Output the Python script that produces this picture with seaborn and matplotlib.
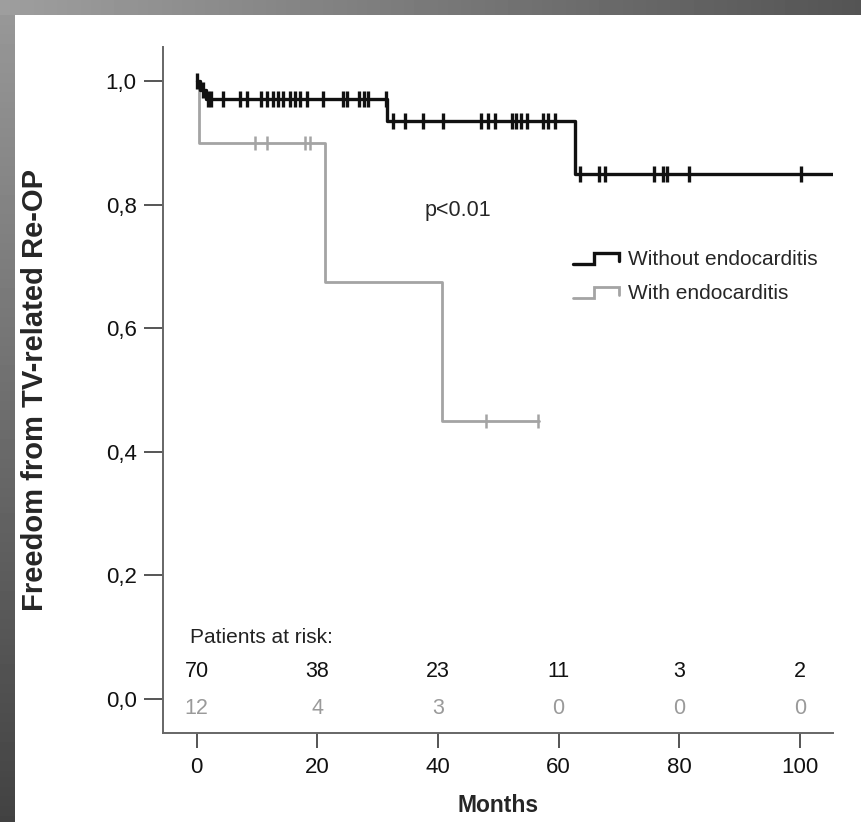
import matplotlib
matplotlib.use("Agg")
import matplotlib.pyplot as plt
from matplotlib.legend_handler import HandlerBase
from matplotlib.lines import Line2D
import numpy as np
import pandas as pd
import seaborn as sns

# Kaplan-Meier step data (months, survival)
groups = ["Without endocarditis", "With endocarditis"]
without_t = [0, 0.5, 1.5, 31.5, 62.7, 105.5]
without_s = [1.0, 0.986, 0.971, 0.935, 0.849, 0.849]
with_t = [0, 0.3, 21.3, 40.6, 56.8]
with_s = [1.0, 0.9, 0.675, 0.45, 0.45]

# censoring times
without_cens = [0, 1.0, 1.9, 2.4, 4.3, 7.1, 8.3, 10.7, 11.6, 12.7, 13.5, 14.3,
                15.4, 16.3, 17.1, 18.2, 20.9, 24.3, 24.9, 26.9, 27.7, 28.4,
                31.4, 32.6, 34.5, 37.5, 40.8, 47.2, 48.3, 49.4, 52.2, 53.0,
                53.8, 54.7, 57.4, 58.3, 59.4, 63.5, 66.7, 67.7, 75.8, 77.3,
                77.9, 81.6, 100.2]
with_cens = [0, 9.6, 11.6, 17.9, 18.7, 47.9, 56.6]

# patients at risk
risk_months = [0, 20, 40, 60, 80, 100]
risk_without = [70, 38, 23, 11, 3, 2]
risk_with = [12, 4, 3, 0, 0, 0]

xticks = [0, 20, 40, 60, 80, 100]
yticks = [0.0, 0.2, 0.4, 0.6, 0.8, 1.0]
ytick_labels = ["0,0", "0,2", "0,4", "0,6", "0,8", "1,0"]

BLACK = "#111111"
GRAY = "#a4a4a4"


def step_value(t, times, surv):
    i = np.searchsorted(times, t, side="right") - 1
    return surv[max(i, 0)]


class StepHandler(HandlerBase):
    def create_artists(self, legend, orig_handle, xdescent, ydescent,
                       width, height, fontsize, trans):
        xs = np.array([0, 0.45, 0.45, 1.0, 1.0]) * width - xdescent
        ys = np.array([0.1, 0.1, 0.85, 0.85, 0.3]) * height - ydescent
        ln = Line2D(xs, ys, color=orig_handle.get_color(),
                    lw=orig_handle.get_linewidth(), solid_joinstyle="miter")
        ln.set_transform(trans)
        return [ln]


sns.set_style("white")
plt.rcParams["font.family"] = ["Liberation Sans", "DejaVu Sans"]

fig = plt.figure(figsize=(8.62, 8.22), dpi=100)
ax = fig.add_axes([163 / 862, 1 - 733 / 822, 670 / 862, 686 / 822])

df = pd.concat([
    pd.DataFrame({"t": without_t, "s": without_s, "group": groups[0]}),
    pd.DataFrame({"t": with_t, "s": with_s, "group": groups[1]}),
])

sns.lineplot(data=df[df.group == groups[1]], x="t", y="s", color=GRAY,
             drawstyle="steps-post", estimator=None, lw=2.0, ax=ax,
             legend=False)
sns.lineplot(data=df[df.group == groups[0]], x="t", y="s", color=BLACK,
             drawstyle="steps-post", estimator=None, lw=2.4, ax=ax,
             legend=False)

cw = [step_value(t, without_t, without_s) for t in without_cens]
cg = [step_value(t, with_t, with_s) for t in with_cens]
ax.plot(with_cens, cg, ls="none", marker="|", ms=10, mew=1.8, color=GRAY)
ax.plot(without_cens, cw, ls="none", marker="|", ms=11, mew=2.4, color=BLACK)

ax.set_xlim(-5.6, 105.5)
ax.set_ylim(-0.055, 1.055)
ax.set_xticks(xticks)
ax.set_yticks(yticks)
ax.set_yticklabels(ytick_labels)
ax.tick_params(axis="both", labelsize=16, colors="#111111", left=True,
               bottom=True)
ax.tick_params(axis="y", length=14, width=1.4, color="#555555", pad=5)
ax.tick_params(axis="x", length=11, width=1.4, color="#555555", pad=6)
for side in ["top", "right"]:
    ax.spines[side].set_visible(False)
for side in ["left", "bottom"]:
    ax.spines[side].set_color("#666666")
    ax.spines[side].set_linewidth(1.4)

ax.set_xlabel("Months", fontsize=16.5, fontweight="bold", labelpad=12)
ax.set_ylabel("Freedom from TV-related Re-OP", fontsize=21,
              fontweight="bold")
ax.yaxis.set_label_coords(-0.17, 0.5)

ax.text(43.3, 0.79, "p<0.01", fontsize=15.5, ha="center", va="center")

# legend
hw = Line2D([], [], color=BLACK, lw=2.4)
hg = Line2D([], [], color=GRAY, lw=2.0)
ax.legend([hw, hg], groups, handler_map={Line2D: StepHandler()},
          loc="upper left", bbox_to_anchor=(0.584, 0.731), frameon=False,
          fontsize=15, handlelength=2.2, handletextpad=0.45,
          labelspacing=0.72)

# patients at risk
ax.text(-1.2, 0.10, "Patients at risk:", fontsize=15, ha="left",
        va="center", color="#222222")
for m, a, b in zip(risk_months, risk_without, risk_with):
    ax.text(m, 0.045, str(a), fontsize=15.5, ha="center", va="center",
            color="#111111")
    ax.text(m, -0.015, str(b), fontsize=15.5, ha="center", va="center",
            color="#9a9a9a")

# grey gradient frame
bw = 15
lax = fig.add_axes([0, 0, bw / 862, 1])
lax.imshow(np.linspace(0.6, 0.26, 256)[:, None], cmap="gray", vmin=0,
           vmax=1, aspect="auto")
lax.axis("off")
tax = fig.add_axes([0, 1 - bw / 822, 1, bw / 822])
tax.imshow(np.linspace(0.62, 0.33, 256)[None, :], cmap="gray", vmin=0,
           vmax=1, aspect="auto")
tax.axis("off")

fig.savefig("out.png", dpi=100)
